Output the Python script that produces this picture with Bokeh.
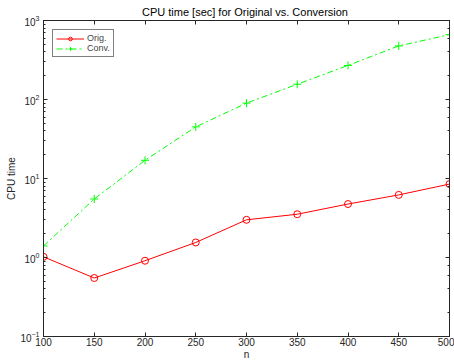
from bokeh.plotting import figure
from bokeh.models import (LinearAxis, LogAxis, Legend, LegendItem, Title, FixedTicker,
                          LogTicker, Range1d, CustomJSTickFormatter)
from bokeh.embed import file_html
from bokeh.resources import INLINE

n = [100, 150, 200, 250, 300, 350, 400, 450, 500]
orig = [1.02, 0.55, 0.91, 1.55, 3.0, 3.53, 4.75, 6.2, 8.5]
conv = [1.4, 5.5, 17.0, 45.0, 90.0, 156.0, 270.0, 477.0, 662.0]
x_ticks = [100, 150, 200, 250, 300, 350, 400, 450, 500]

FONT = "Liberation Sans"
AX = "#262626"

p = figure(width=454, height=362, y_axis_type="log",
           x_range=Range1d(100, 500), y_range=Range1d(0.1, 1000),
           output_backend="svg", toolbar_location=None, title=None,
           min_border_left=43, min_border_right=5, min_border_top=0,
           min_border_bottom=0, background_fill_color="white",
           border_fill_color="white")
p.grid.visible = False
p.outline_line_color = AX

def style(ax):
    ax.axis_line_color = AX
    ax.major_tick_line_color = AX
    ax.minor_tick_line_color = AX
    ax.major_tick_in = 4
    ax.major_tick_out = 0
    ax.minor_tick_in = 2
    ax.minor_tick_out = 0
    ax.major_label_text_font = FONT
    ax.major_label_text_font_size = "10px"
    ax.major_label_text_color = AX
    ax.axis_label_text_font = FONT
    ax.axis_label_text_font_size = "10px"
    ax.axis_label_text_font_style = "normal"
    ax.axis_label_text_color = AX

xa = p.xaxis[0]
xa.ticker = FixedTicker(ticks=x_ticks)
xa.axis_label = "n"
xa.axis_label_standoff = 0
xa.major_label_standoff = 1
style(xa)

ya = p.yaxis[0]
ya.axis_label = "CPU time"
ya.axis_label_standoff = 0
ya.major_label_standoff = 4
style(ya)

blank = CustomJSTickFormatter(code="return ''")

top = LinearAxis(ticker=FixedTicker(ticks=x_ticks), formatter=blank)
style(top)
top.major_label_standoff = 0
p.add_layout(top, "above")

right = LogAxis(ticker=LogTicker(), formatter=blank)
style(right)
right.major_label_standoff = 0
p.add_layout(right, "right")

t = Title(text="CPU time [sec] for Original vs.  Conversion", align="center",
          text_font=FONT, text_font_size="11px", text_font_style="normal",
          text_color="black", standoff=6, offset=0)
p.add_layout(t, "above")

l1 = p.line(n, orig, line_color="#ff0000", line_width=1)
m1 = p.scatter(n, orig, marker="circle", size=7, fill_color=None,
               line_color="#ff0000", line_width=1)
l2 = p.line(n, conv, line_color="#00ff00", line_width=1, line_dash="6 3 2 3")
m2 = p.scatter(n, conv, marker="cross", size=8, line_color="#00ff00", line_width=1)

leg = Legend(items=[LegendItem(label="Orig.", renderers=[l1, m1]),
                    LegendItem(label="Conv.", renderers=[l2, m2])],
             location="top_left", margin=9, padding=3, spacing=0,
             glyph_width=28, glyph_height=9, label_height=9,
             label_text_font=FONT, label_text_font_size="9px",
             label_standoff=3, border_line_color="black", border_line_width=1,
             background_fill_alpha=1)
p.add_layout(leg, "center")

open("out.html", "w").write(file_html(p, INLINE))
